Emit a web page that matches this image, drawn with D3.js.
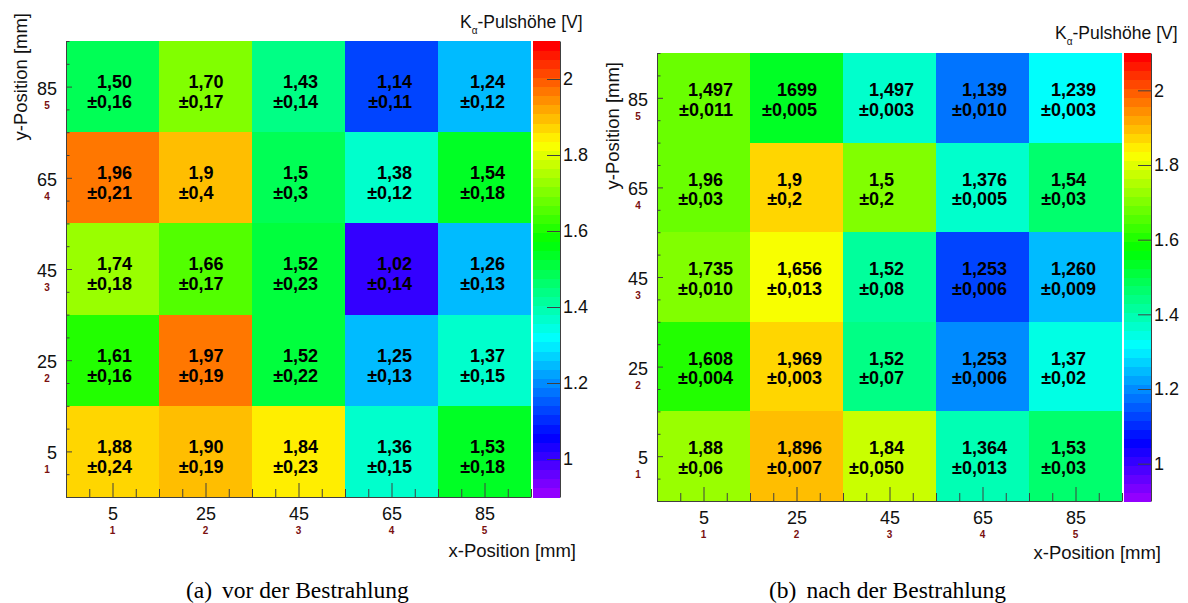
<!DOCTYPE html>
<html>
<head>
<meta charset="utf-8">
<script src="https://cdn.jsdelivr.net/npm/d3@7"></script>
<style>
  body { margin: 0; background: #fff; }
  svg { display: block; }
</style>
</head>
<body>
<svg id="chart" width="1188" height="603"></svg>
<script>
// ---- data ----------------------------------------------------------------
const xPositions = [5, 25, 45, 65, 85];          // mm, column centres
const yPositions = [85, 65, 45, 25, 5];          // mm, row centres, top to bottom
const positionIndex = ["1", "2", "3", "4", "5"]; // pad numbers under the mm labels
const zTicks = [1, 1.2, 1.4, 1.6, 1.8, 2];
const zDomain = [0.9, 2.1];

// before irradiation: mean K-alpha pulse height and its error per pad
const beforeValues = [
  ["1,50", "1,70", "1,43", "1,14", "1,24"],
  ["1,96", "1,9",  "1,5",  "1,38", "1,54"],
  ["1,74", "1,66", "1,52", "1,02", "1,26"],
  ["1,61", "1,97", "1,52", "1,25", "1,37"],
  ["1,88", "1,90", "1,84", "1,36", "1,53"]
];
const beforeErrors = [
  ["±0,16", "±0,17", "±0,14", "±0,11", "±0,12"],
  ["±0,21", "±0,4",  "±0,3",  "±0,12", "±0,18"],
  ["±0,18", "±0,17", "±0,23", "±0,14", "±0,13"],
  ["±0,16", "±0,19", "±0,22", "±0,13", "±0,15"],
  ["±0,24", "±0,19", "±0,23", "±0,15", "±0,18"]
];

// after irradiation: annotation texts per pad
const afterValues = [
  ["1,497", "1699",  "1,497", "1,139", "1,239"],
  ["1,96",  "1,9",   "1,5",   "1,376", "1,54"],
  ["1,735", "1,656", "1,52",  "1,253", "1,260"],
  ["1,608", "1,969", "1,52",  "1,253", "1,37"],
  ["1,88",  "1,896", "1,84",  "1,364", "1,53"]
];
const afterErrors = [
  ["±0,011", "±0,005", "±0,003", "±0,010", "±0,003"],
  ["±0,03",  "±0,2",   "±0,2",   "±0,005", "±0,03"],
  ["±0,010", "±0,013", "±0,08",  "±0,006", "±0,009"],
  ["±0,004", "±0,003", "±0,07",  "±0,006", "±0,02"],
  ["±0,06",  "±0,007", "±0,050", "±0,013", "±0,03"]
];
// after irradiation: histogram content that sets the cell colour
const afterFill = [
  [1.68, 1.54, 1.37, 1.17, 1.32],
  [1.68, 1.87, 1.70, 1.37, 1.46],
  [1.70, 1.82, 1.42, 1.13, 1.24],
  [1.61, 1.86, 1.44, 1.20, 1.34],
  [1.73, 1.90, 1.78, 1.39, 1.46]
];

const captionLabels = ["(a)", "(b)"];
const captionTexts = ["vor der Bestrahlung", "nach der Bestrahlung"];

// ---- helpers -------------------------------------------------------------
const parseDe = s => +s.replace(",", ".");

// ROOT "pretty" palette: 50 fully saturated hues from violet (280) down to red (0)
const nColors = 50;
function paletteColor(i) {
  const hue = 280 - (i + 1) * (280 / nColors);
  return d3.hsl(hue, 1, 0.5).formatHex();
}
function zColor(z) {
  let i = Math.floor((z - zDomain[0]) / (zDomain[1] - zDomain[0]) * nColors);
  i = Math.max(0, Math.min(nColors - 1, i));
  return paletteColor(i);
}

const SANS = "'Liberation Sans', Arial, Helvetica, sans-serif";
const SERIF = "'Liberation Serif', 'Times New Roman', serif";
const AXIS_COLOR = "#404040";
const INDEX_COLOR = "#7a1010";

const svg = d3.select("#chart");

const panels = [
  {
    plot: { x0: 66, x1: 531, y0: 41, y1: 497 },
    bar: { x0: 533, x1: 560 },
    values: beforeValues, errors: beforeErrors,
    fill: beforeValues.map(r => r.map(parseDe)),
    textOffsets: [31, 29.5, 31, 32, 32], line1: 47, line2: 67,
    zTitle: { x: 460, y: 28 },
    xTitle: { x: 576, y: 557 },
    yTitle: { x: 27, y: 13 },
    caption: { x: 186 },
    label: captionLabels[0], text: captionTexts[0]
  },
  {
    plot: { x0: 657, x1: 1122, y0: 53, y1: 501 },
    bar: { x0: 1124, x1: 1151 },
    values: afterValues, errors: afterErrors,
    fill: afterFill,
    textOffsets: [31, 27, 26, 26, 22], line1: 43, line2: 62.5,
    zTitle: { x: 1055, y: 39 },
    xTitle: { x: 1161, y: 559 },
    yTitle: { x: 619, y: 62 },
    caption: { x: 769 },
    label: captionLabels[1], text: captionTexts[1]
  }
];

panels.forEach(p => {
  const g = svg.append("g");
  const x = d3.scaleLinear([-5, 95], [p.plot.x0, p.plot.x1]);
  const y = d3.scaleLinear([-5, 95], [p.plot.y1, p.plot.y0]);
  const z = d3.scaleLinear(zDomain, [p.plot.y1, p.plot.y0]);

  // cells
  const cells = [];
  yPositions.forEach((yc, r) => xPositions.forEach((xc, c) => {
    cells.push({ xc, yc, r, c, fill: p.fill[r][c], v: p.values[r][c], e: p.errors[r][c] });
  }));
  g.append("g").selectAll("rect").data(cells).join("rect")
    .attr("x", d => x(d.xc - 10))
    .attr("y", d => y(d.yc + 10))
    .attr("width", d => x(d.xc + 10) - x(d.xc - 10))
    .attr("height", d => y(d.yc - 10) - y(d.yc + 10))
    .attr("fill", d => zColor(d.fill))
    .attr("shape-rendering", "crispEdges");

  // cell annotations: value line, error line right-aligned under it
  const tg = g.append("g")
    .attr("font-family", SANS).attr("font-weight", "bold")
    .attr("font-size", 18).attr("fill", "#000");
  cells.forEach(d => {
    const tx = x(d.xc - 10) + p.textOffsets[d.c];
    const top = y(d.yc + 10);
    const t1 = tg.append("text").attr("x", tx).attr("y", top + p.line1).text(d.v);
    const w = t1.node().getComputedTextLength();
    tg.append("text").attr("x", tx + w).attr("y", top + p.line2)
      .attr("text-anchor", "end").text(d.e);
  });

  // x axis: major ticks at pad centres, minor every 5 mm
  const xMinor = d3.range(-5, 96, 5).filter(v => !xPositions.includes(v));
  const xAxisG = g.append("g").attr("transform", `translate(0,${p.plot.y1})`);
  xAxisG.append("g")
    .call(d3.axisBottom(x).tickValues(xMinor).tickSizeInner(-8).tickSizeOuter(0).tickFormat(""))
    .call(a => a.select(".domain").remove());
  xAxisG.append("g")
    .call(d3.axisBottom(x).tickValues(xPositions).tickSizeInner(-14).tickSizeOuter(0).tickPadding(10))
    .call(a => a.selectAll("text").attr("font-size", 18).attr("font-family", SANS).attr("fill", "#111"));
  xAxisG.selectAll(".domain, line").attr("stroke", AXIS_COLOR);
  xAxisG.append("g").selectAll("text").data(xPositions).join("text")
    .attr("x", d => x(d)).attr("y", 37)
    .attr("text-anchor", "middle").attr("font-family", SANS).attr("font-weight", "bold")
    .attr("font-size", 10).attr("fill", INDEX_COLOR)
    .text((d, i) => positionIndex[i]);

  // y axis
  const yMinor = d3.range(-5, 96, 5).filter(v => !yPositions.includes(v));
  const yAxisG = g.append("g").attr("transform", `translate(${p.plot.x0},0)`);
  yAxisG.append("g")
    .call(d3.axisLeft(y).tickValues(yMinor).tickSizeInner(-3.5).tickSizeOuter(0).tickFormat(""))
    .call(a => a.select(".domain").remove());
  yAxisG.append("g")
    .call(d3.axisLeft(y).tickValues(yPositions).tickSizeInner(-6).tickSizeOuter(0).tickPadding(9))
    .call(a => a.selectAll("text").attr("font-size", 18).attr("font-family", SANS)
      .attr("fill", "#111").attr("dy", "0.42em"));
  yAxisG.selectAll(".domain, line").attr("stroke", AXIS_COLOR);
  yAxisG.append("g").selectAll("text").data(yPositions).join("text")
    .attr("x", -19).attr("y", d => y(d) + 22)
    .attr("text-anchor", "middle").attr("font-family", SANS).attr("font-weight", "bold")
    .attr("font-size", 10).attr("fill", INDEX_COLOR)
    .text(d => positionIndex[xPositions.indexOf(d)]);

  // colour bar
  const dz = (zDomain[1] - zDomain[0]) / nColors;
  g.append("g").selectAll("rect").data(d3.range(nColors)).join("rect")
    .attr("x", p.bar.x0)
    .attr("width", p.bar.x1 - p.bar.x0)
    .attr("y", i => z(zDomain[0] + (i + 1) * dz))
    .attr("height", i => z(zDomain[0] + i * dz) - z(zDomain[0] + (i + 1) * dz) + 0.5)
    .attr("fill", i => paletteColor(i))
    .attr("shape-rendering", "crispEdges");
  const zAxisG = g.append("g").attr("transform", `translate(${p.bar.x1},0)`)
    .call(d3.axisRight(z).tickValues(zTicks).tickSizeInner(-13).tickSizeOuter(0)
      .tickPadding(3).tickFormat(d3.format("~g")));
  zAxisG.selectAll("text").attr("font-size", 18).attr("font-family", SANS).attr("fill", "#111");
  zAxisG.selectAll(".domain, line").attr("stroke", AXIS_COLOR);

  // colour bar title
  const zt = g.append("text").attr("x", p.zTitle.x).attr("y", p.zTitle.y)
    .attr("font-family", SANS).attr("font-size", 17.5).attr("fill", "#111");
  zt.append("tspan").text("K");
  zt.append("tspan").attr("dy", 6).attr("font-size", 10).text("α");
  zt.append("tspan").attr("dy", -6).text("-Pulshöhe [V]");

  // axis titles
  g.append("text").attr("x", p.xTitle.x).attr("y", p.xTitle.y)
    .attr("text-anchor", "end").attr("font-family", SANS).attr("font-size", 18.5)
    .attr("fill", "#111").text("x-Position [mm]");
  g.append("text")
    .attr("transform", `translate(${p.yTitle.x},${p.yTitle.y}) rotate(-90)`)
    .attr("text-anchor", "end").attr("font-family", SANS).attr("font-size", 18.5)
    .attr("fill", "#111").text("y-Position [mm]");

  // sub-figure caption
  const cap = g.append("text").attr("x", p.caption.x).attr("y", 598)
    .attr("font-family", SERIF).attr("font-size", 23.5).attr("fill", "#000");
  cap.append("tspan").text(p.label);
  cap.append("tspan").attr("dx", 10).text(p.text);
});
</script>
</body>
</html>
